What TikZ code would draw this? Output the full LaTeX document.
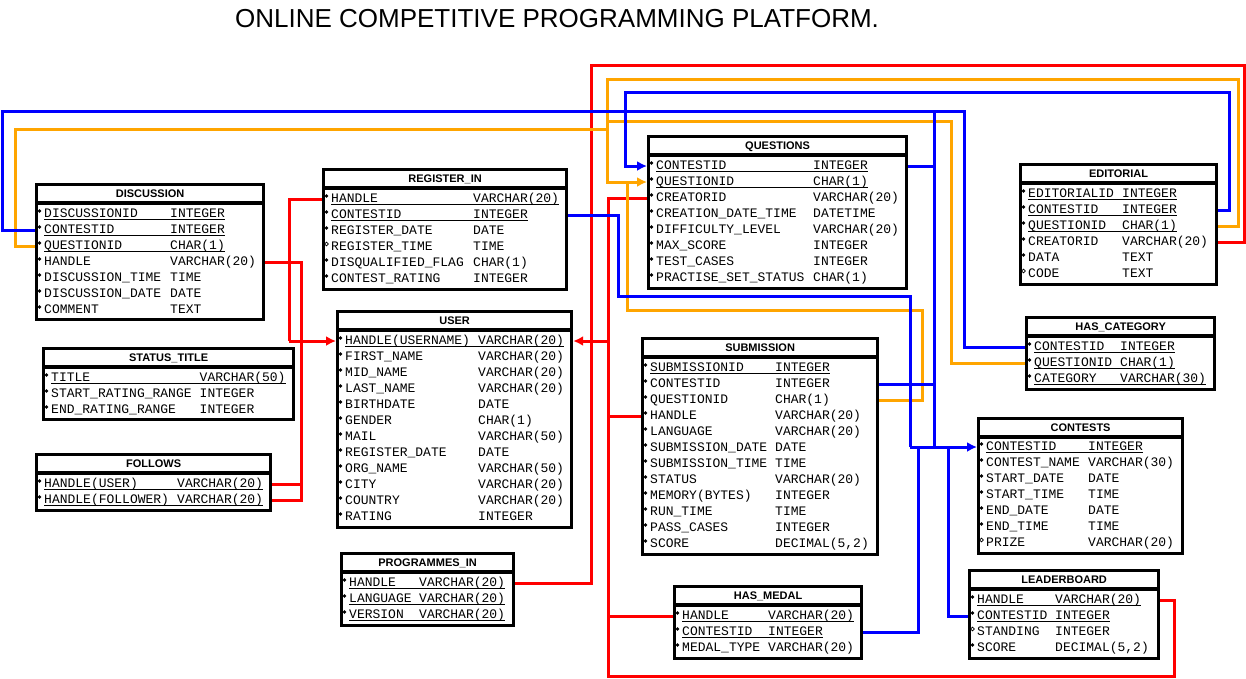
\documentclass[tikz,border=0pt]{standalone}
\usepackage{fontspec}
\setmonofont{Liberation Mono}
\newfontfamily\hdfont{Liberation Sans}
\usetikzlibrary{arrows.meta}
\definecolor{fkred}{RGB}{255,0,0}
\definecolor{fkblue}{RGB}{0,0,255}
\definecolor{fkorange}{RGB}{255,165,0}

\tikzset{
  tbox/.style={draw, fill=white, line width=3.2pt, anchor=north west, inner sep=0pt},
  hline/.style={line width=3.2pt},
  thead/.style={font=\hdfont\bfseries\fontsize{11}{12}\selectfont, text height=8pt, text depth=0pt, inner sep=0pt},
  fld/.style={font=\ttfamily\fontsize{13}{16}\selectfont, anchor=west, text height=9pt, text depth=3pt, inner sep=0pt},
  bul/.style={circle, fill, inner sep=0pt, minimum size=3.6pt},
  obul/.style={circle, draw, line width=0.8pt, inner sep=0pt, minimum size=3.8pt},
  uline/.style={line width=1pt},
  link/.style={line width=3pt},
  tip/.style={-{Latex[length=10pt,width=10pt]}},
}

\newcommand\etable[6]{%
  \node[tbox, minimum width=#4-#2, minimum height=#5-#3] (#1) at (#2,#3) {};
  \draw[hline] ([yshift=-20pt]#1.north west) -- ([yshift=-20pt]#1.north east);
  \node[thead] (#1-hd) at ([yshift=-10.5pt]#1.north) {#6};}
\newcommand\frow[5]{%
  \node[#3] (#1-m) at (\namex-4.5,#2-3) {};
  \node[fld] (#1) at (\namex,#2) {#4};
  \node[fld] (#1-t) at (\typex,#2) {#5};}
\newcommand\krow[5]{%
  \frow{#1}{#2}{#3}{#4}{#5}
  \draw[uline] ([yshift=-2pt]#1.base west) -- ([yshift=-2pt]#1-t.base east);}

\begin{document}
\begin{tikzpicture}[x=1pt,y=-1pt]
\useasboundingbox (0,0) rectangle (1246,678);
\node[font=\hdfont\fontsize{26}{30}\selectfont] (title) at (557,19) {ONLINE COMPETITIVE PROGRAMMING PLATFORM.};

\etable{disc}{35}{183}{262}{318}{DISCUSSION}
\def\namex{44}\def\typex{170}
\krow{disc-id}{214}{bul}{DISCUSSIONID}{INTEGER}
\krow{disc-c}{230}{bul}{CONTESTID}{INTEGER}
\krow{disc-q}{246}{bul}{QUESTIONID}{CHAR(1)}
\frow{disc-h}{262}{bul}{HANDLE}{VARCHAR(20)}
\frow{disc-t}{278}{bul}{DISCUSSION\_TIME}{TIME}
\frow{disc-d}{294}{bul}{DISCUSSION\_DATE}{DATE}
\frow{disc-cm}{310}{bul}{COMMENT}{TEXT}

\etable{reg}{322}{168}{565}{288}{REGISTER\_IN}
\def\namex{331}\def\typex{473}
\krow{reg-h}{199}{bul}{HANDLE}{VARCHAR(20)}
\krow{reg-c}{215}{bul}{CONTESTID}{INTEGER}
\frow{reg-d}{231}{bul}{REGISTER\_DATE}{DATE}
\frow{reg-t}{247}{obul}{REGISTER\_TIME}{TIME}
\frow{reg-f}{263}{bul}{DISQUALIFIED\_FLAG}{CHAR(1)}
\frow{reg-r}{279}{bul}{CONTEST\_RATING}{INTEGER}

\etable{user}{336}{310}{570}{526}{USER}
\def\namex{345}\def\typex{478}
\krow{user-h}{341}{bul}{HANDLE(USERNAME)}{VARCHAR(20)}
\frow{user-fn}{357}{bul}{FIRST\_NAME}{VARCHAR(20)}
\frow{user-mn}{373}{bul}{MID\_NAME}{VARCHAR(20)}
\frow{user-ln}{389}{bul}{LAST\_NAME}{VARCHAR(20)}
\frow{user-bd}{405}{bul}{BIRTHDATE}{DATE}
\frow{user-g}{421}{bul}{GENDER}{CHAR(1)}
\frow{user-m}{437}{bul}{MAIL}{VARCHAR(50)}
\frow{user-rd}{453}{bul}{REGISTER\_DATE}{DATE}
\frow{user-o}{469}{bul}{ORG\_NAME}{VARCHAR(50)}
\frow{user-ci}{485}{bul}{CITY}{VARCHAR(20)}
\frow{user-co}{501}{bul}{COUNTRY}{VARCHAR(20)}
\frow{user-r}{517}{bul}{RATING}{INTEGER}

\etable{stat}{42}{347}{292}{418}{STATUS\_TITLE}
\def\namex{51}\def\typex{199.5}
\krow{stat-t}{378}{bul}{TITLE}{VARCHAR(50)}
\frow{stat-s}{394}{bul}{START\_RATING\_RANGE}{INTEGER}
\frow{stat-e}{410}{bul}{END\_RATING\_RANGE}{INTEGER}

\etable{fol}{35}{453}{269}{509}{FOLLOWS}
\def\namex{44}\def\typex{177}
\krow{fol-u}{484}{bul}{HANDLE(USER)}{VARCHAR(20)}
\krow{fol-f}{500}{bul}{HANDLE(FOLLOWER)}{VARCHAR(20)}

\etable{prog}{340}{552}{512}{624}{PROGRAMMES\_IN}
\def\namex{349}\def\typex{419}
\krow{prog-h}{583}{bul}{HANDLE}{VARCHAR(20)}
\krow{prog-l}{599}{bul}{LANGUAGE}{VARCHAR(20)}
\krow{prog-v}{615}{bul}{VERSION}{VARCHAR(20)}

\etable{ques}{647}{135}{905}{287}{QUESTIONS}
\def\namex{656}\def\typex{813}
\krow{ques-c}{166}{bul}{CONTESTID}{INTEGER}
\krow{ques-q}{182}{bul}{QUESTIONID}{CHAR(1)}
\frow{ques-cr}{198}{bul}{CREATORID}{VARCHAR(20)}
\frow{ques-dt}{214}{bul}{CREATION\_DATE\_TIME}{DATETIME}
\frow{ques-dl}{230}{bul}{DIFFICULTY\_LEVEL}{VARCHAR(20)}
\frow{ques-ms}{246}{bul}{MAX\_SCORE}{INTEGER}
\frow{ques-tc}{262}{bul}{TEST\_CASES}{INTEGER}
\frow{ques-ps}{278}{bul}{PRACTISE\_SET\_STATUS}{CHAR(1)}

\etable{sub}{641}{337}{876}{553}{SUBMISSION}
\def\namex{650}\def\typex{775}
\krow{sub-id}{368}{bul}{SUBMISSIONID}{INTEGER}
\frow{sub-c}{384}{bul}{CONTESTID}{INTEGER}
\frow{sub-q}{400}{bul}{QUESTIONID}{CHAR(1)}
\frow{sub-h}{416}{bul}{HANDLE}{VARCHAR(20)}
\frow{sub-l}{432}{bul}{LANGUAGE}{VARCHAR(20)}
\frow{sub-d}{448}{bul}{SUBMISSION\_DATE}{DATE}
\frow{sub-t}{464}{bul}{SUBMISSION\_TIME}{TIME}
\frow{sub-s}{480}{bul}{STATUS}{VARCHAR(20)}
\frow{sub-m}{496}{bul}{MEMORY(BYTES)}{INTEGER}
\frow{sub-rt}{512}{bul}{RUN\_TIME}{TIME}
\frow{sub-pc}{528}{bul}{PASS\_CASES}{INTEGER}
\frow{sub-sc}{544}{bul}{SCORE}{DECIMAL(5,2)}

\etable{med}{673}{585}{860}{657}{HAS\_MEDAL}
\def\namex{682}\def\typex{768}
\krow{med-h}{616}{bul}{HANDLE}{VARCHAR(20)}
\krow{med-c}{632}{bul}{CONTESTID}{INTEGER}
\frow{med-t}{648}{bul}{MEDAL\_TYPE}{VARCHAR(20)}

\etable{edit}{1019}{163}{1215}{283}{EDITORIAL}
\def\namex{1028}\def\typex{1122}
\krow{edit-id}{194}{bul}{EDITORIALID}{INTEGER}
\krow{edit-c}{210}{bul}{CONTESTID}{INTEGER}
\krow{edit-q}{226}{bul}{QUESTIONID}{CHAR(1)}
\frow{edit-cr}{242}{bul}{CREATORID}{VARCHAR(20)}
\frow{edit-d}{258}{bul}{DATA}{TEXT}
\frow{edit-co}{274}{obul}{CODE}{TEXT}

\etable{hcat}{1025}{316}{1213}{388}{HAS\_CATEGORY}
\def\namex{1034}\def\typex{1120}
\krow{hcat-c}{347}{bul}{CONTESTID}{INTEGER}
\krow{hcat-q}{363}{bul}{QUESTIONID}{CHAR(1)}
\krow{hcat-g}{379}{bul}{CATEGORY}{VARCHAR(30)}

\etable{cont}{977}{417}{1181}{552}{CONTESTS}
\def\namex{986}\def\typex{1088}
\krow{cont-c}{447}{bul}{CONTESTID}{INTEGER}
\frow{cont-n}{463}{bul}{CONTEST\_NAME}{VARCHAR(30)}
\frow{cont-sd}{479}{bul}{START\_DATE}{DATE}
\frow{cont-st}{495}{bul}{START\_TIME}{TIME}
\frow{cont-ed}{511}{bul}{END\_DATE}{DATE}
\frow{cont-et}{527}{bul}{END\_TIME}{TIME}
\frow{cont-p}{543}{obul}{PRIZE}{VARCHAR(20)}

\etable{lead}{968}{569}{1157}{657}{LEADERBOARD}
\def\namex{977}\def\typex{1055}
\krow{lead-h}{600}{bul}{HANDLE}{VARCHAR(20)}
\krow{lead-c}{616}{bul}{CONTESTID}{INTEGER}
\frow{lead-s}{632}{obul}{STANDING}{INTEGER}
\frow{lead-sc}{648}{bul}{SCORE}{DECIMAL(5,2)}

\coordinate (ujoinL) at (289,341);
\coordinate (ujoinR) at (608,341);
\coordinate (cjoin) at (910,447);
\coordinate (ojoin) at (607,121);

\draw[link, fkred] (reg.west |- reg-h) -| (ujoinL);
\draw[link, fkred] (disc.east |- disc-h) -| (301,341);
\draw[link, fkred] (fol.east |- fol-u) -| (301,341);
\draw[link, fkred] (fol.east |- fol-f) -| (301,341);
\draw[link, fkred, tip] (ujoinL) -- (user.west |- user-h);
\draw[link, fkred] (prog.east |- prog-h) -| (591,65) -| (1244,242) -- (edit.east |- edit-cr);
\draw[link, fkred] (ques.west |- ques-cr) -| (608,676) -| (1174,600) -- (lead.east |- lead-h);
\draw[link, fkred] (sub.west |- sub-h) -- (608,416);
\draw[link, fkred] (med.west |- med-h) -- (608,616);
\draw[link, fkred, tip] (ujoinR) -- (user.east |- user-h);

\draw[link, fkorange, tip] (edit.east |- edit-q) -| (1238,79) -| (607,182) -- (ques.west |- ques-q);
\draw[link, fkorange] (disc.west |- disc-q) -| (15,129) -- (607,129);
\draw[link, fkorange] (ojoin) -| (951,363) -- (hcat.west |- hcat-q);
\draw[link, fkorange] (sub.east |- sub-q) -| (922,310) -| (627,182);

\draw[link, fkblue, tip] (edit.east |- edit-c) -| (1229,92) -| (625,166) -- (ques.west |- ques-c);
\draw[link, fkblue] (disc.west |- disc-c) -| (2,111) -| (964,347) -- (hcat.west |- hcat-c);
\draw[link, fkblue] (ques.east |- ques-c) -| (934,111);
\draw[link, fkblue] (ques.east |- ques-c) -| (934,447);
\draw[link, fkblue] (sub.east |- sub-c) -- (934,384);
\draw[link, fkblue] (reg.east |- reg-c) -| (618,296) -| (cjoin);
\draw[link, fkblue] (med.east |- med-c) -| (918,447);
\draw[link, fkblue] (lead.west |- lead-c) -| (948,447);
\draw[link, fkblue, tip] (cjoin) -- (cont.west |- cont-c);
\end{tikzpicture}
\end{document}
